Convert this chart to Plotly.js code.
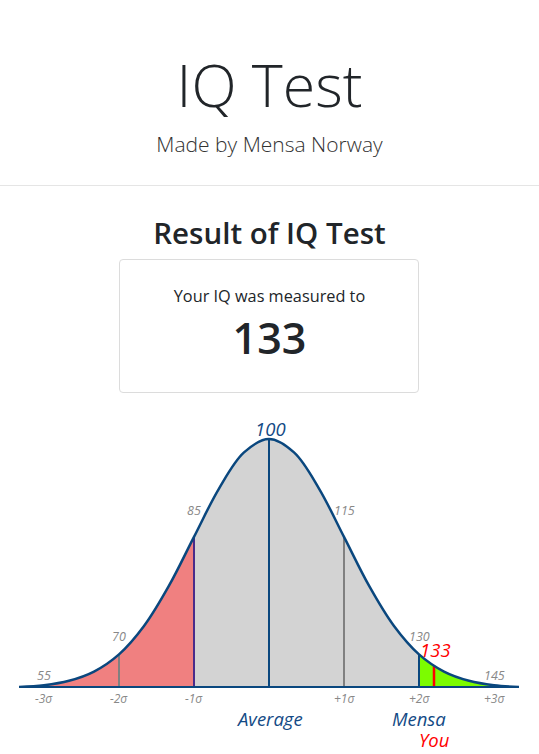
<!DOCTYPE html>
<html>
<head>
<meta charset="utf-8">
<script src="https://cdn.plot.ly/plotly-3.0.1.min.js"></script>
<style>
  html, body { margin: 0; padding: 0; background: #fff; width: 539px; height: 754px; overflow: hidden; }
  body { position: relative; font-family: "Open Sans", "Noto Sans", sans-serif; color: #212529; }
  .abs { position: absolute; left: 0; width: 539px; text-align: center; white-space: nowrap; }
  #h1 { top: 44px; font-size: 59px; font-weight: 300; line-height: 80px; color: #212529; }
  #sub { top: 129px; font-size: 21px; font-weight: 300; line-height: 30px; color: #333; }
  #rule { position: absolute; left: 0; top: 185px; width: 539px; height: 1px; background: #e5e5e5; }
  #h2 { top: 212px; font-size: 29.5px; font-weight: 600; line-height: 42px; color: #212529; }
  #card { position: absolute; left: 119px; top: 259px; width: 298px; height: 132px; border: 1px solid #dcdcdc; border-radius: 4px; }
  #measured { top: 283px; font-size: 16.3px; line-height: 26px; color: #212529; }
  #score { top: 308px; font-size: 43px; font-weight: 600; line-height: 60px; color: #212529; }
  #chart { position: absolute; left: 0; top: 400px; width: 539px; height: 354px; }
</style>
</head>
<body>
<div class="abs" id="h1">IQ Test</div>
<div class="abs" id="sub">Made by Mensa Norway</div>
<div id="rule"></div>
<div class="abs" id="h2">Result of IQ Test</div>
<div id="card"></div>
<div class="abs" id="measured">Your IQ was measured to</div>
<div class="abs" id="score">133</div>
<div id="chart"></div>
<script>
// ---- data ----
const iq = [50, 55, 60, 65, 70, 75, 80, 85, 90, 95, 100, 105, 110, 115, 120, 125, 130, 135, 140, 145, 150];
// curve height relative to the peak (peak = 1)
const density = [0.004, 0.011, 0.029, 0.066, 0.135, 0.249, 0.411, 0.607, 0.801, 0.946, 1.000,
                 0.946, 0.801, 0.607, 0.411, 0.249, 0.135, 0.066, 0.029, 0.011, 0.004];
const markerIQ = [70, 85, 100, 115, 130];
const labelIQ = [55, 70, 85, 100, 115, 130, 145];
const sigmaIQ = [55, 70, 85, 115, 130, 145];
const sigmaText = ["-3σ", "-2σ", "-1σ", "+1σ", "+2σ", "+3σ"];
const yourIQ = 133;
const yourHeight = 0.088;
const lowCut = 85;     // red region up to -1σ
const mensaCut = 130;  // green region from +2σ

// ---- styles ----
const FONT = "Open Sans, Noto Sans, sans-serif";
const BLUE = "#0a477e";
const TEXTBLUE = "#134a85";
const GREY = "#888888";
const markerColors = {70: "#808080", 85: "#4b2b8a", 100: BLUE, 115: "#808080", 130: BLUE};
const labelShift = {55: 10, 70: 18, 85: 26, 100: 11, 115: 26, 130: 18, 145: 10};

function heightAt(x) { return density[iq.indexOf(x)]; }
function segment(a, b) {
  const xs = [], ys = [];
  iq.forEach((v, i) => { if (v >= a && v <= b) { xs.push(v); ys.push(density[i]); } });
  return {xs, ys};
}

const traces = [];
const red = segment(50, lowCut), grey = segment(lowCut, mensaCut), green = segment(mensaCut, 150);
[[red, "#f08080"], [grey, "#d3d3d3"], [green, "#7cfc00"]].forEach(([s, c]) => {
  traces.push({x: s.xs, y: s.ys, type: "scatter", mode: "lines", fill: "tozeroy",
    fillcolor: c, line: {width: 0, shape: "spline", color: c}, hoverinfo: "skip", showlegend: false});
});
markerIQ.forEach(v => {
  traces.push({x: [v, v], y: [0, heightAt(v)], type: "scatter", mode: "lines",
    line: {color: markerColors[v], width: 2}, hoverinfo: "skip", showlegend: false});
});
traces.push({x: [yourIQ, yourIQ], y: [0, yourHeight], type: "scatter", mode: "lines",
  line: {color: "#ff0000", width: 2.5}, hoverinfo: "skip", showlegend: false});
traces.push({x: iq, y: density, type: "scatter", mode: "lines",
  line: {color: BLUE, width: 2.5, shape: "spline"}, hoverinfo: "skip", showlegend: false});

const annotations = [];
labelIQ.forEach(v => {
  const big = v === 100;
  annotations.push({x: v, y: heightAt(v), xref: "x", yref: "y", text: String(v), showarrow: false,
    yanchor: "middle", yshift: labelShift[v], xshift: big ? 1 : 0,
    font: {family: FONT, size: big ? 18.5 : 12.5, style: "italic", color: big ? TEXTBLUE : GREY}});
});
annotations.push({x: yourIQ, y: yourHeight, xref: "x", yref: "y", text: String(yourIQ), showarrow: false,
  yanchor: "middle", yshift: 17, xshift: 1, font: {family: FONT, size: 18.5, style: "italic", color: "#ff0000"}});
annotations.push({x: 100, y: 0, xref: "x", yref: "y", text: "Average", showarrow: false, yanchor: "middle", yshift: -30,
  font: {family: FONT, size: 18.5, style: "italic", color: TEXTBLUE}});
annotations.push({x: mensaCut, y: 0, xref: "x", yref: "y", text: "Mensa", showarrow: false, yanchor: "middle", yshift: -30,
  font: {family: FONT, size: 18.5, style: "italic", color: TEXTBLUE}});
annotations.push({x: yourIQ, y: 0, xref: "x", yref: "y", text: "You", showarrow: false, yanchor: "middle", yshift: -51,
  font: {family: FONT, size: 18.5, style: "italic", color: "#ff0000"}});
sigmaIQ.forEach((v, i) => {
  annotations.push({x: v, y: 0, xref: "x", yref: "y", text: sigmaText[i], showarrow: false, yanchor: "middle", yshift: -10,
    font: {family: FONT, size: 12, style: "italic", color: GREY}});
});

const layout = {
  width: 539, height: 354,
  margin: {l: 19, r: 20, t: 20, b: 66},
  paper_bgcolor: "rgba(0,0,0,0)", plot_bgcolor: "rgba(0,0,0,0)",
  xaxis: {range: [50, 150], showgrid: false, zeroline: false, showline: false, showticklabels: false, ticks: "", fixedrange: true},
  yaxis: {range: [0, 1.0763], showgrid: false, zeroline: false, showline: false, showticklabels: false, ticks: "", fixedrange: true},
  shapes: [{type: "line", xref: "x", yref: "y", x0: 50, x1: 150, y0: 0, y1: 0, line: {color: BLUE, width: 4}, layer: "above"}],
  annotations: annotations,
  showlegend: false
};
Plotly.newPlot("chart", traces, layout, {displayModeBar: false, staticPlot: true});
</script>
</body>
</html>
